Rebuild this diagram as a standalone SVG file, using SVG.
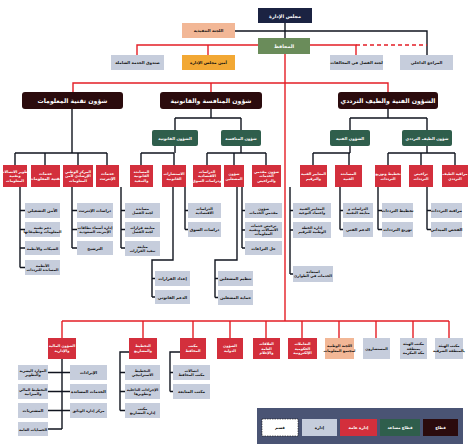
<svg xmlns="http://www.w3.org/2000/svg" width="474" height="445" viewBox="0 0 474 445">
<style>
text{font-family:"DejaVu Sans",sans-serif;font-weight:bold;text-anchor:middle}
.w{fill:#fff}.k{fill:#111}
.sec{fill:#2b0b0d}
.sub{fill:#2f5e4c}
.red{fill:#d32f3c}
.gry{fill:#c6cddc}
.pch{fill:#f2b796}
.blk{stroke:#10141f;stroke-width:1.4;fill:none}
.rl{stroke:#e41e26;stroke-width:1.4;fill:none}
.f6{font-size:6.2px}.f5{font-size:4.8px}.f4{font-size:4px}.f3{font-size:3.6px}
</style>
<rect width="474" height="445" fill="#fff"/>
<g id="connectors">
<path class="blk" d="M285,23V38M235,31H427V55"/>
<path class="rl" d="M208,45V55M137,55V45H258M310,45H356V55M73,92V83H388V92M211,83V92M285,54V321M62,321H449M62,321V338M143,321V338M193,321V338M230,321V338M266,321V338M302,321V338M339,321V338M376,321V338M413,321V338M449,321V338"/>
<path class="rl" d="M356,45H427" stroke-dasharray="4,3"/>
<path class="blk" d="M72,109V153M15,153H107M15,153V165M45,153V165M78,153V165M107,153V165
M211,109V118M175,118H241M175,118V130M241,118V130
M388,109V118M350,118H427M350,118V130M427,118V130
M175,146V153M141,153H174M141,153V165M174,153V165
M241,146V153M207,153H266M207,153V165M234,153V165M266,153V165
M350,146V153M313,153H350M313,153V165M349,153V165
M427,146V153M388,153H455M388,153V165M421,153V165M455,153V165
M20,187V267.5M20,210.5H25M20,229.5H25M20,248H25M20,267.5H25
M72,187V248M72,210.5H77M72,229.5H77M72,248H77
M121,187V248M121,210.5H125M121,229.5H125M121,248H125
M173,187V260H152V297M152,278.5H155M152,297H155
M185,187V229.5M185,210.5H188M185,229.5H188
M237,187V260H215V297.5M215,278.5H218M215,297.5H218
M242,187V248M242,210.5H245M242,230H245M242,248H245
M290,187V274M290,210.5H293M290,230H293M290,274H293
M340,187V229.5M340,210.5H343M340,229.5H343
M378,187V229.5M378,210.5H382M378,229.5H382
M427,187V229.5M427,210.5H431M427,229.5H431
M62,359V429M48,372.5H70M48,391.5H70M48,410.5H70M48,429H62
M129,352H120V410.5M120,372.5H125M120,391.5H125M120,410.5H125
M180,352H170V391.5M170,372.5H173M170,391.5H173"/>
</g>
<g id="board"><rect x="258" y="8" width="54" height="15" fill="#1b2342"/><text class="w f5" x="285" y="17.5">مجلس الإدارة</text></g>
<g id="exec"><rect class="pch" x="182" y="23" width="53" height="15"/><text class="k f4" x="208.5" y="32">اللجنة التنفيذية</text></g>
<g id="governor"><rect x="258" y="38" width="52" height="16" fill="#6a8c5a"/><text class="w f5" x="284" y="47.5">المحافظ</text></g>
<g id="fund"><rect class="gry" x="111" y="55" width="53" height="15"/><text class="k f4" x="137.5" y="64">صندوق الخدمة الشاملة</text></g>
<g id="secretary"><rect x="182" y="55" width="53" height="15" fill="#f2a834"/><text class="k f4" x="208.5" y="64">أمين مجلس الإدارة</text></g>
<g id="committee"><rect class="gry" x="330" y="55" width="53" height="15"/><text class="k f4" x="356.5" y="64">لجنة الفصل في المخالفات</text></g>
<g id="audit"><rect class="gry" x="400" y="55" width="53" height="15"/><text class="k f4" x="426.5" y="64">المراجع الداخلي</text></g>

<g id="s-it"><rect class="sec" x="22" y="92" width="101" height="17" rx="3"/><text class="w f6" x="72.5" y="102.8">شؤون تقنية المعلومات</text></g>
<g id="s-cl"><rect class="sec" x="160" y="92" width="102" height="17" rx="3"/><text class="w f6" x="211" y="102.8">شؤون المنافسة والقانونية</text></g>
<g id="s-ts"><rect class="sec" x="338" y="92" width="100" height="17" rx="3"/><text class="w f6" x="388" y="102.8">الشؤون الفنية والطيف الترددي</text></g>

<g id="g-legal"><rect class="sub" x="152" y="130" width="46" height="16" rx="2"/><text class="w f4" x="175" y="139.5">الشؤون القانونية</text></g>
<g id="g-comp"><rect class="sub" x="221" y="130" width="40" height="16" rx="2"/><text class="w f4" x="241" y="139.5">شؤون المنافسة</text></g>
<g id="g-tech"><rect class="sub" x="330" y="130" width="40" height="16" rx="2"/><text class="w f4" x="350" y="139.5">الشؤون الفنية</text></g>
<g id="g-spec"><rect class="sub" x="402" y="130" width="50" height="16" rx="2"/><text class="w f4" x="427" y="139.5">شؤون الطيف الترددي</text></g>

<g id="r1"><rect class="red" x="3" y="165" width="24" height="22"/><text class="w f3"><tspan x="15" y="172.5">تطوير الاتصالات</tspan><tspan x="15" y="177">وتقنية</tspan><tspan x="15" y="181.5">المعلومات</tspan></text></g>
<g id="r2"><rect class="red" x="31" y="165" width="29" height="22"/><text class="w f4"><tspan x="45.5" y="175">خدمات</tspan><tspan x="45.5" y="180">تقنية المعلومات</tspan></text></g>
<g id="r3"><rect class="red" x="63" y="165" width="30" height="22"/><text class="w f3"><tspan x="78" y="172.5">المركز الوطني</tspan><tspan x="78" y="177">الإرشادي لأمن</tspan><tspan x="78" y="181.5">المعلومات</tspan></text></g>
<g id="r4"><rect class="red" x="96" y="165" width="23" height="22"/><text class="w f4"><tspan x="107.5" y="175">خدمات</tspan><tspan x="107.5" y="180">الإنترنت</tspan></text></g>
<g id="r5"><rect class="red" x="130" y="165" width="23" height="22"/><text class="w f3"><tspan x="141.5" y="172.5">المساندة</tspan><tspan x="141.5" y="177">القانونية</tspan><tspan x="141.5" y="181.5">والتنفيذ</tspan></text></g>
<g id="r6"><rect class="red" x="162" y="165" width="24" height="22"/><text class="w f3"><tspan x="174" y="175">الاستشارات</tspan><tspan x="174" y="180">القانونية</tspan></text></g>
<g id="r7"><rect class="red" x="193" y="165" width="28" height="22"/><text class="w f3"><tspan x="207" y="172.5">الدراسات</tspan><tspan x="207" y="177">الاقتصادية</tspan><tspan x="207" y="181.5">ودراسات السوق</tspan></text></g>
<g id="r8"><rect class="red" x="224" y="165" width="20" height="22"/><text class="w f3"><tspan x="234" y="175">شؤون</tspan><tspan x="234" y="180">المشغلين</tspan></text></g>
<g id="r9"><rect class="red" x="252" y="165" width="29" height="22"/><text class="w f3"><tspan x="266.5" y="172.5">شؤون مقدمي</tspan><tspan x="266.5" y="177">الخدمات</tspan><tspan x="266.5" y="181.5">والتراخيص</tspan></text></g>
<g id="r10"><rect class="red" x="300" y="165" width="27" height="22"/><text class="w f3"><tspan x="313.5" y="175">المعايير الفنية</tspan><tspan x="313.5" y="180">والترقيم</tspan></text></g>
<g id="r11"><rect class="red" x="335" y="165" width="27" height="22"/><text class="w f3"><tspan x="348.5" y="175">المساندة</tspan><tspan x="348.5" y="180">الفنية</tspan></text></g>
<g id="r12"><rect class="red" x="375" y="165" width="26" height="22"/><text class="w f3"><tspan x="388" y="175">تخطيط وتوزيع</tspan><tspan x="388" y="180">الترددات</tspan></text></g>
<g id="r13"><rect class="red" x="409" y="165" width="24" height="22"/><text class="w f3"><tspan x="421" y="175">تراخيص</tspan><tspan x="421" y="180">الترددات</tspan></text></g>
<g id="r14"><rect class="red" x="442" y="165" width="26" height="22"/><text class="w f3"><tspan x="455" y="175">مراقبة الطيف</tspan><tspan x="455" y="180">الترددي</tspan></text></g>

<g id="it-a1"><rect class="gry" x="25" y="203" width="35" height="15"/><text class="k f4" x="42.5" y="212">الأمن التشغيلي</text></g>
<g id="it-a2"><rect class="gry" x="25" y="222" width="35" height="15"/><text class="k f3"><tspan x="42.5" y="228.5">دعم تقنية</tspan><tspan x="42.5" y="233">المعلومات وتطبيقاتها</tspan></text></g>
<g id="it-a3"><rect class="gry" x="25" y="241" width="35" height="14"/><text class="k f3" x="42.5" y="249.5">الشبكات والأنظمة</text></g>
<g id="it-a4"><rect class="gry" x="25" y="260" width="35" height="15"/><text class="k f3"><tspan x="42.5" y="266.5">الأنظمة</tspan><tspan x="42.5" y="271">المساندة للترددات</tspan></text></g>
<g id="it-b1"><rect class="gry" x="77" y="203" width="36" height="15"/><text class="k f4" x="95" y="212">دراسات الإنترنت</text></g>
<g id="it-b2"><rect class="gry" x="77" y="222" width="36" height="15"/><text class="k f3"><tspan x="95" y="228.5">إدارة أسماء نطاقات</tspan><tspan x="95" y="233">الإنترنت السعودية</tspan></text></g>
<g id="it-b3"><rect class="gry" x="77" y="241" width="36" height="14"/><text class="k f4" x="95" y="249.5">الترشيح</text></g>

<g id="lg-a1"><rect class="gry" x="125" y="203" width="35" height="15"/><text class="k f3"><tspan x="142.5" y="209.5">مساندة</tspan><tspan x="142.5" y="214">لجنة الفصل</tspan></text></g>
<g id="lg-a2"><rect class="gry" x="125" y="222" width="35" height="15"/><text class="k f3"><tspan x="142.5" y="228.5">متابعة قرارات</tspan><tspan x="142.5" y="233">لجنة الفصل</tspan></text></g>
<g id="lg-a3"><rect class="gry" x="125" y="241" width="35" height="15"/><text class="k f3"><tspan x="142.5" y="247.5">متابعة</tspan><tspan x="142.5" y="252">تنفيذ القرارات</tspan></text></g>
<g id="lg-b1"><rect class="gry" x="155" y="271" width="35" height="15"/><text class="k f4" x="172.5" y="280">إعداد القرارات</text></g>
<g id="lg-b2"><rect class="gry" x="155" y="290" width="35" height="14"/><text class="k f4" x="172.5" y="298.5">الدعم القانوني</text></g>

<g id="cp-a1"><rect class="gry" x="188" y="203" width="33" height="15"/><text class="k f3"><tspan x="204.5" y="209.5">الدراسات</tspan><tspan x="204.5" y="214">الاقتصادية</tspan></text></g>
<g id="cp-a2"><rect class="gry" x="188" y="222" width="33" height="15"/><text class="k f4" x="204.5" y="231">دراسات السوق</text></g>
<g id="cp-c1"><rect class="gry" x="218" y="271" width="35" height="15"/><text class="k f4" x="235.5" y="280">تنظيم المشغلين</text></g>
<g id="cp-c2"><rect class="gry" x="218" y="290" width="35" height="15"/><text class="k f4" x="235.5" y="299">حماية المشغلين</text></g>
<g id="cp-b1"><rect class="gry" x="245" y="203" width="37" height="15"/><text class="k f3"><tspan x="263.5" y="209.5">شؤون</tspan><tspan x="263.5" y="214">مقدمي الخدمات</tspan></text></g>
<g id="cp-b2"><rect class="gry" x="245" y="222" width="37" height="16"/><text class="k f3"><tspan x="263.5" y="227">ترخيص خدمات</tspan><tspan x="263.5" y="231">الاتصالات وتقنية</tspan><tspan x="263.5" y="235">المعلومات</tspan></text></g>
<g id="cp-b3"><rect class="gry" x="245" y="241" width="37" height="14"/><text class="k f4" x="263.5" y="249.5">حل النزاعات</text></g>

<g id="tc-a1"><rect class="gry" x="293" y="203" width="38" height="15"/><text class="k f3"><tspan x="312" y="209.5">المعايير الفنية</tspan><tspan x="312" y="214">واعتماد النوعية</tspan></text></g>
<g id="tc-a2"><rect class="gry" x="293" y="222" width="38" height="16"/><text class="k f3"><tspan x="312" y="228.5">إدارة الخطة</tspan><tspan x="312" y="233">الوطنية للترقيم</tspan></text></g>
<g id="tc-a3"><rect class="gry" x="293" y="266" width="40" height="16"/><text class="k f3"><tspan x="313" y="272.5">استعادة</tspan><tspan x="313" y="277">الخدمات في الطوارئ</tspan></text></g>
<g id="tc-b1"><rect class="gry" x="343" y="203" width="30" height="15"/><text class="k f3"><tspan x="358" y="209.5">الدراسات و</tspan><tspan x="358" y="214">متابعة التقنية</tspan></text></g>
<g id="tc-b2"><rect class="gry" x="343" y="222" width="30" height="15"/><text class="k f4" x="358" y="231">الدعم الفني</text></g>
<g id="sp-a1"><rect class="gry" x="382" y="203" width="31" height="15"/><text class="k f4" x="397.5" y="212">تخطيط الترددات</text></g>
<g id="sp-a2"><rect class="gry" x="382" y="222" width="31" height="15"/><text class="k f4" x="397.5" y="231">توزيع الترددات</text></g>
<g id="sp-b1"><rect class="gry" x="431" y="203" width="31" height="15"/><text class="k f4" x="446.5" y="212">مراقبة الترددات</text></g>
<g id="sp-b2"><rect class="gry" x="431" y="222" width="31" height="15"/><text class="k f4" x="446.5" y="231">الفحص الميداني</text></g>

<g id="b1"><rect class="red" x="48" y="338" width="28" height="21"/><text class="w f3"><tspan x="62" y="347">الشؤون المالية</tspan><tspan x="62" y="352">والإدارية</tspan></text></g>
<g id="b2"><rect class="red" x="129" y="338" width="28" height="21"/><text class="w f3"><tspan x="143" y="347">التخطيط</tspan><tspan x="143" y="352">والمشاريع</tspan></text></g>
<g id="b3"><rect class="red" x="180" y="338" width="26" height="21"/><text class="w f3"><tspan x="193" y="347">مكتب</tspan><tspan x="193" y="352">المحافظ</tspan></text></g>
<g id="b4"><rect class="red" x="217" y="338" width="26" height="21"/><text class="w f3"><tspan x="230" y="347">الشؤون</tspan><tspan x="230" y="352">الدولية</tspan></text></g>
<g id="b5"><rect class="red" x="253" y="338" width="27" height="21"/><text class="w f3"><tspan x="266.5" y="345">العلاقات</tspan><tspan x="266.5" y="349.5">العامة</tspan><tspan x="266.5" y="354">والإعلام</tspan></text></g>
<g id="b6"><rect class="red" x="288" y="338" width="29" height="21"/><text class="w f3"><tspan x="302.5" y="345">التعاملات</tspan><tspan x="302.5" y="349.5">الحكومية</tspan><tspan x="302.5" y="354">الإلكترونية</tspan></text></g>
<g id="b7"><rect class="pch" x="325" y="338" width="29" height="21"/><text class="k f3"><tspan x="339.5" y="347">اللجنة الوطنية</tspan><tspan x="339.5" y="352">لمجتمع المعلومات</tspan></text></g>
<g id="b8"><rect class="gry" x="363" y="338" width="27" height="21"/><text class="k f3" x="376.5" y="349.5">المستشارون</text></g>
<g id="b9"><rect class="gry" x="400" y="338" width="27" height="21"/><text class="k f3"><tspan x="413.5" y="345">مكتب الهيئة</tspan><tspan x="413.5" y="349.5">بمنطقة</tspan><tspan x="413.5" y="354">مكة المكرمة</tspan></text></g>
<g id="b10"><rect class="gry" x="435" y="338" width="28" height="21"/><text class="k f3"><tspan x="449" y="347">مكتب الهيئة</tspan><tspan x="449" y="352">بالمنطقة الشرقية</tspan></text></g>

<g id="fn-l1"><rect class="gry" x="18" y="365" width="30" height="15"/><text class="k f3"><tspan x="33" y="371.5">الموارد البشرية</tspan><tspan x="33" y="376">والتطوير</tspan></text></g>
<g id="fn-l2"><rect class="gry" x="18" y="384" width="30" height="15"/><text class="k f3"><tspan x="33" y="390.5">التخطيط المالي</tspan><tspan x="33" y="395">والميزانية</tspan></text></g>
<g id="fn-l3"><rect class="gry" x="18" y="403" width="30" height="15"/><text class="k f4" x="33" y="412">المشتريات</text></g>
<g id="fn-l4"><rect class="gry" x="18" y="422" width="30" height="14"/><text class="k f3" x="33" y="430.5">الحسابات العامة</text></g>
<g id="fn-r1"><rect class="gry" x="70" y="365" width="37" height="15"/><text class="k f4" x="88.5" y="374">الإيرادات</text></g>
<g id="fn-r2"><rect class="gry" x="70" y="384" width="37" height="15"/><text class="k f4" x="88.5" y="393">الخدمات المساندة</text></g>
<g id="fn-r3"><rect class="gry" x="70" y="403" width="37" height="15"/><text class="k f3" x="88.5" y="412">مركز إدارة الوثائق</text></g>
<g id="pl-1"><rect class="gry" x="125" y="365" width="35" height="15"/><text class="k f3"><tspan x="142.5" y="371.5">التخطيط</tspan><tspan x="142.5" y="376">الاستراتيجي</tspan></text></g>
<g id="pl-2"><rect class="gry" x="125" y="384" width="35" height="15"/><text class="k f3"><tspan x="142.5" y="390.5">الإجراءات الداخلية</tspan><tspan x="142.5" y="395">وتطويرها</tspan></text></g>
<g id="pl-3"><rect class="gry" x="125" y="403" width="35" height="15"/><text class="k f3"><tspan x="142.5" y="409.5">مكتب</tspan><tspan x="142.5" y="414">إدارة المشاريع</tspan></text></g>
<g id="gv-1"><rect class="gry" x="173" y="365" width="37" height="15"/><text class="k f3"><tspan x="191.5" y="371.5">اتصالات</tspan><tspan x="191.5" y="376">مكتب المحافظ</tspan></text></g>
<g id="gv-2"><rect class="gry" x="173" y="384" width="37" height="15"/><text class="k f4" x="191.5" y="393">مكتب المتابعة</text></g>

<g id="legend">
<rect x="257" y="408" width="206" height="36" fill="#4a5474"/>
<rect x="262" y="419" width="36" height="17" fill="#fff" stroke="#111" stroke-width="0.6" stroke-dasharray="1.5,1"/><text class="k f4" x="280" y="429">قسم</text>
<rect class="gry" x="302" y="419" width="35" height="17"/><text class="k f4" x="319.5" y="429">إدارة</text>
<rect class="red" x="340" y="419" width="37" height="17"/><text class="w f4" x="358.5" y="429">إدارة عامة</text>
<rect class="sub" x="380" y="419" width="40" height="17"/><text class="w f4" x="400" y="429">قطاع مساعد</text>
<rect class="sec" x="423" y="419" width="35" height="17"/><text class="w f4" x="440.5" y="429">قطاع</text>
</g>
</svg>
